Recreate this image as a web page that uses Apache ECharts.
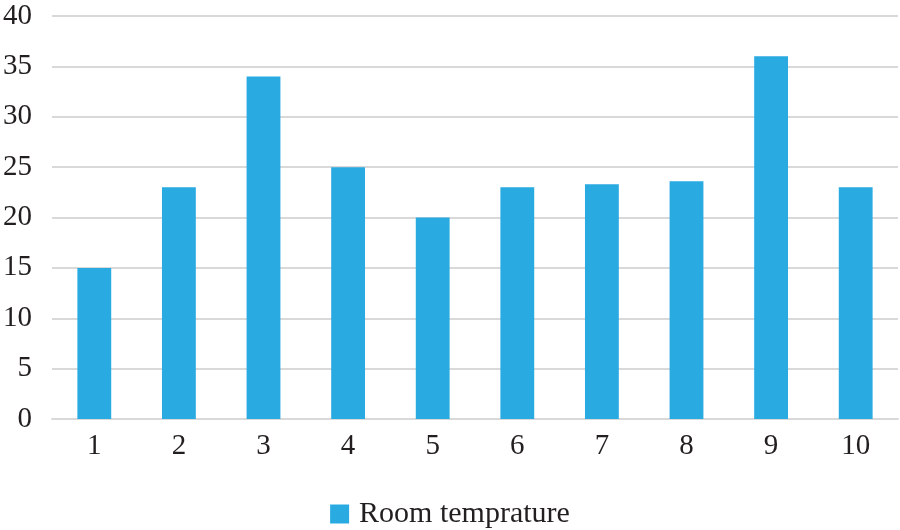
<!DOCTYPE html>
<html>
<head>
<meta charset="utf-8">
<script src="https://cdn.jsdelivr.net/npm/echarts@6/dist/echarts.min.js"></script>
<style>
  html, body { margin: 0; padding: 0; background: #fff; }
  #main { width: 900px; height: 530px; }
</style>
</head>
<body>
<div id="main"></div>
<script>
var categories = ["1", "2", "3", "4", "5", "6", "7", "8", "9", "10"];
var roomTemp = [15, 23, 34, 25, 20, 23, 23.3, 23.6, 36, 23];
var seriesName = "Room temprature";

var chartDom = document.getElementById("main");
var myChart = echarts.init(chartDom);
var font = "'Liberation Serif', 'Times New Roman', serif";

var option = {
  backgroundColor: "#ffffff",
  animation: false,
  grid: { left: 52, right: 2, top: 16, bottom: 111 },
  legend: {
    top: 499,
    left: "center",
    padding: 0,
    itemWidth: 19,
    itemHeight: 19,
    itemGap: 10,
    icon: "rect",
    textStyle: { fontFamily: font, fontSize: 30, color: "#231f20", padding: [0, 0, 0, 5] },
    data: [seriesName]
  },
  xAxis: {
    type: "category",
    data: categories,
    axisLine: { show: true, lineStyle: { color: "#d9d9d9", width: 2 } },
    axisTick: { show: false },
    axisLabel: { fontFamily: font, fontSize: 29, color: "#231f20", margin: 13 }
  },
  yAxis: {
    type: "value",
    min: 0,
    max: 40,
    interval: 5,
    axisLine: { show: false },
    axisTick: { show: false },
    splitLine: { lineStyle: { color: "#d9d9d9", width: 2 } },
    axisLabel: { fontFamily: font, fontSize: 29, color: "#231f20", margin: 20 }
  },
  series: [
    {
      name: seriesName,
      type: "bar",
      data: roomTemp,
      barWidth: "40%",
      itemStyle: { color: "#29abe2" }
    }
  ]
};

option && myChart.setOption(option);
</script>
</body>
</html>
